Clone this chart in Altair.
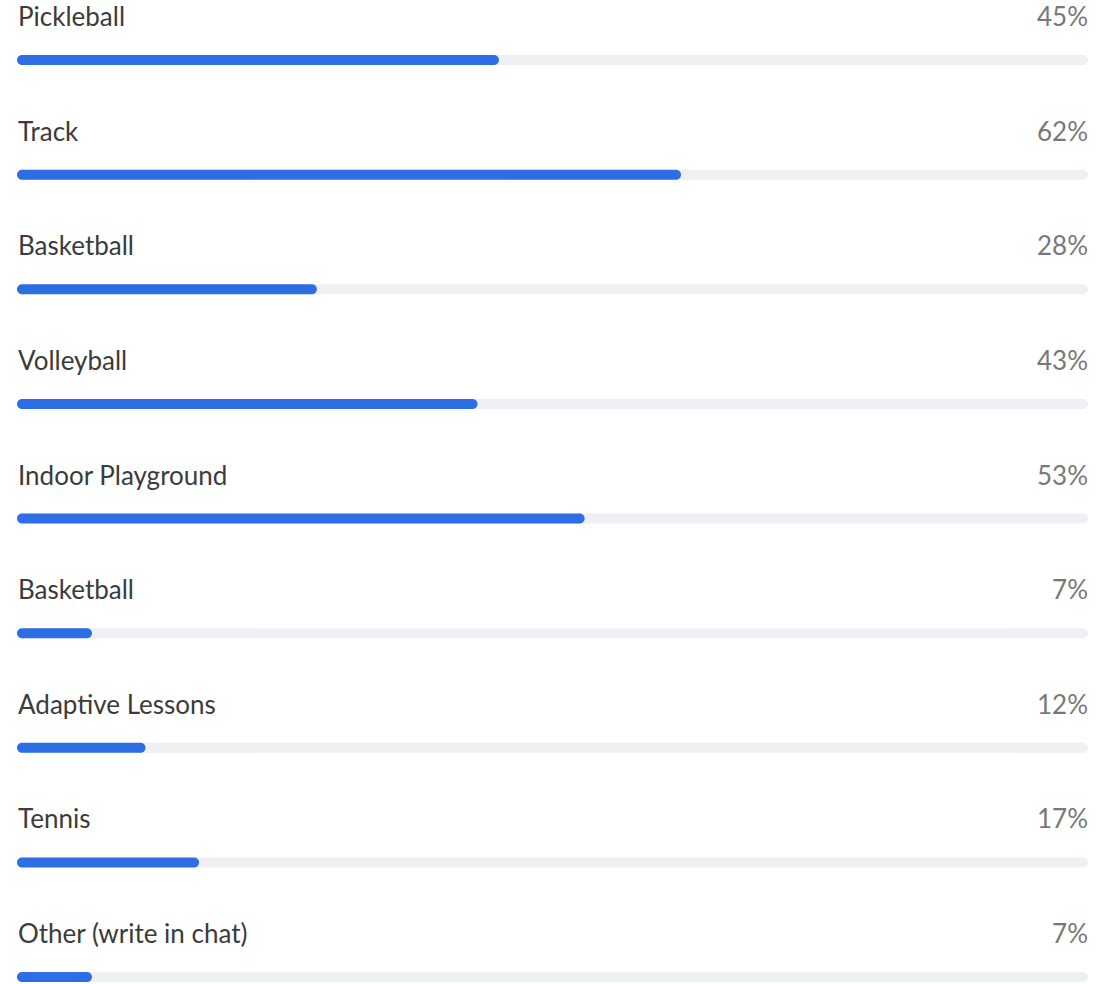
import altair as alt
import pandas as pd

labels = ["Pickleball", "Track", "Basketball", "Volleyball", "Indoor Playground",
          "Basketball", "Adaptive Lessons", "Tennis", "Other (write in chat)"]
values = [45, 62, 28, 43, 53, 7, 12, 17, 7]

df = pd.DataFrame({
    "row": list(range(len(labels))),
    "label": labels,
    "value": [v / 100 for v in values],
    "pct": [f"{v}%" for v in values],
    "full": [1.0] * len(labels),
    "zero": [0.0] * len(labels),
})

FONT = "Lato"
x_scale = alt.Scale(domain=[0, 1], nice=False, zero=True)
y_scale = alt.Scale(type="point", domain=list(range(len(labels))), range=[60, 977], padding=0)

base = alt.Chart(df)
y = alt.Y("row:O", scale=y_scale, axis=None)

track = base.mark_bar(color="#eef0f3", height=10, cornerRadius=5).encode(
    x=alt.X("zero:Q", scale=x_scale, axis=None),
    x2="full:Q",
    y=y,
)
bar = base.mark_bar(color="#2d6ee5", height=10, cornerRadius=5).encode(
    x=alt.X("zero:Q", scale=x_scale, axis=None),
    x2="value:Q",
    y=y,
)
name = base.mark_text(align="left", baseline="alphabetic", dx=1, dy=-34,
                      font=FONT, fontSize=26, color="#3b3b3b").encode(
    x=alt.X("zero:Q", scale=x_scale, axis=None),
    y=y,
    text="label:N",
)
pct = base.mark_text(align="right", baseline="alphabetic", dx=0, dy=-34,
                     font=FONT, fontSize=26, color="#787878").encode(
    x=alt.X("full:Q", scale=x_scale, axis=None),
    y=y,
    text="pct:N",
)

chart = alt.layer(track, bar, name, pct).properties(
    width=1071, height=984,
    autosize=alt.AutoSizeParams(type="none"),
    padding={"left": 17, "top": 0, "right": 9, "bottom": 0},
).configure(background="white").configure_view(stroke="transparent", strokeWidth=0)

chart.save("out.html", embed_options={"renderer": "svg", "actions": False})
